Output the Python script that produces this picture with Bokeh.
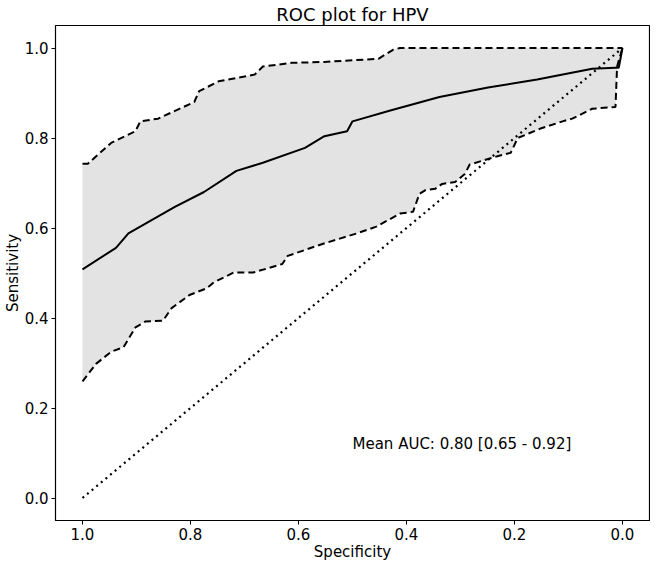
from bokeh.plotting import figure
from bokeh.models import Range1d, FixedTicker, PrintfTickFormatter, ColumnDataSource
from bokeh.core.properties import value
from bokeh.embed import file_html
from bokeh.resources import INLINE

# Mean ROC curve (specificity, sensitivity)
mean_spec = [1.0, 0.938, 0.915, 0.829, 0.775, 0.715, 0.666, 0.588, 0.552, 0.51, 0.50,
             0.43, 0.339, 0.249, 0.158, 0.056, 0.013, 0.007, 0.0]
mean_sens = [0.508, 0.556, 0.588, 0.647, 0.680, 0.727, 0.745, 0.778, 0.804, 0.815, 0.837,
             0.861, 0.891, 0.912, 0.930, 0.954, 0.956, 0.956, 1.0]

# Upper confidence band
upper_spec = [1.0, 0.99, 0.947, 0.902, 0.893, 0.86, 0.793, 0.784, 0.748, 0.681, 0.666,
              0.612, 0.552, 0.452, 0.425, 0.412, 0.0]
upper_sens = [0.743, 0.743, 0.789, 0.815, 0.837, 0.843, 0.880, 0.904, 0.926, 0.941, 0.959,
              0.967, 0.969, 0.976, 0.996, 1.0, 1.0]

# Lower confidence band
lower_spec = [1.0, 0.975, 0.947, 0.924, 0.902, 0.884, 0.851, 0.835, 0.802, 0.77, 0.757,
              0.72, 0.684, 0.63, 0.62, 0.557, 0.492, 0.456, 0.412, 0.388, 0.376, 0.365,
              0.347, 0.334, 0.31, 0.292, 0.283, 0.261, 0.230, 0.207, 0.194, 0.152, 0.111,
              0.093, 0.056, 0.013, 0.01, 0.0]
lower_sens = [0.259, 0.298, 0.325, 0.335, 0.379, 0.392, 0.394, 0.422, 0.451, 0.466, 0.479,
              0.501, 0.501, 0.52, 0.538, 0.564, 0.588, 0.603, 0.632, 0.636, 0.676, 0.684,
              0.687, 0.698, 0.702, 0.720, 0.741, 0.749, 0.760, 0.767, 0.800, 0.821, 0.837,
              0.843, 0.865, 0.869, 0.959, 1.0]

# Chance diagonal
chance_spec = [1.0, 0.0]
chance_sens = [0.0, 1.0]

tick_values = [0.0, 0.2, 0.4, 0.6, 0.8, 1.0]

auc_text = ["Mean AUC: 0.80 [0.65 - 0.92]"]
auc_x = [0.5]
auc_y = [0.1]

FONT = "DejaVu Sans"

p = figure(width=650, height=563, output_backend="svg", toolbar_location=None,
           x_range=Range1d(1.05, -0.05), y_range=Range1d(-0.05, 1.05),
           title="ROC plot for HPV", min_border_left=52, min_border_right=1,
           min_border_top=0, min_border_bottom=0)

p.title.align = "center"
p.title.text_font = FONT
p.title.text_font_size = "18px"
p.title.text_font_style = "normal"
p.title.text_color = "black"
p.title.standoff = 2

p.xgrid.visible = False
p.ygrid.visible = False
p.outline_line_color = "black"
p.outline_line_width = 1.2
p.outline_line_alpha = 1.0

for ax in (p.xaxis[0], p.yaxis[0]):
    ax.ticker = FixedTicker(ticks=tick_values)
    ax.formatter = PrintfTickFormatter(format="%.1f")
    ax.minor_tick_line_color = None
    ax.major_tick_in = 0
    ax.major_tick_out = 4
    ax.major_tick_line_color = "black"
    ax.axis_line_color = "black"
    ax.major_label_text_font = FONT
    ax.major_label_text_font_size = "15px"
    ax.major_label_text_color = "black"
    ax.axis_label_text_font = FONT
    ax.axis_label_text_font_size = "15px"
    ax.axis_label_text_font_style = "normal"
    ax.axis_label_text_color = "black"
    ax.major_label_standoff = 3
    ax.axis_label_standoff = 0

p.xaxis.axis_label = "Specificity"
p.yaxis.axis_label = "Sensitivity"

# Confidence band fill
band_x = upper_spec + lower_spec[::-1]
band_y = upper_sens + lower_sens[::-1]
p.patch(band_x, band_y, fill_color="#e3e3e3", line_color=None)

p.line(upper_spec, upper_sens, line_color="black", line_width=2, line_dash="7 4")
p.line(lower_spec, lower_sens, line_color="black", line_width=2, line_dash="7 4")
p.line(mean_spec, mean_sens, line_color="black", line_width=2)
p.line(chance_spec, chance_sens, line_color="black", line_width=2.2, line_dash="2 4")

src = ColumnDataSource(dict(x=auc_x, y=auc_y, t=auc_text))
p.text(x="x", y="y", text="t", source=src, text_font=value(FONT), text_font_size="15px",
       text_color="black", text_align="left", text_baseline="bottom")

open("out.html", "w").write(file_html(p, INLINE))
